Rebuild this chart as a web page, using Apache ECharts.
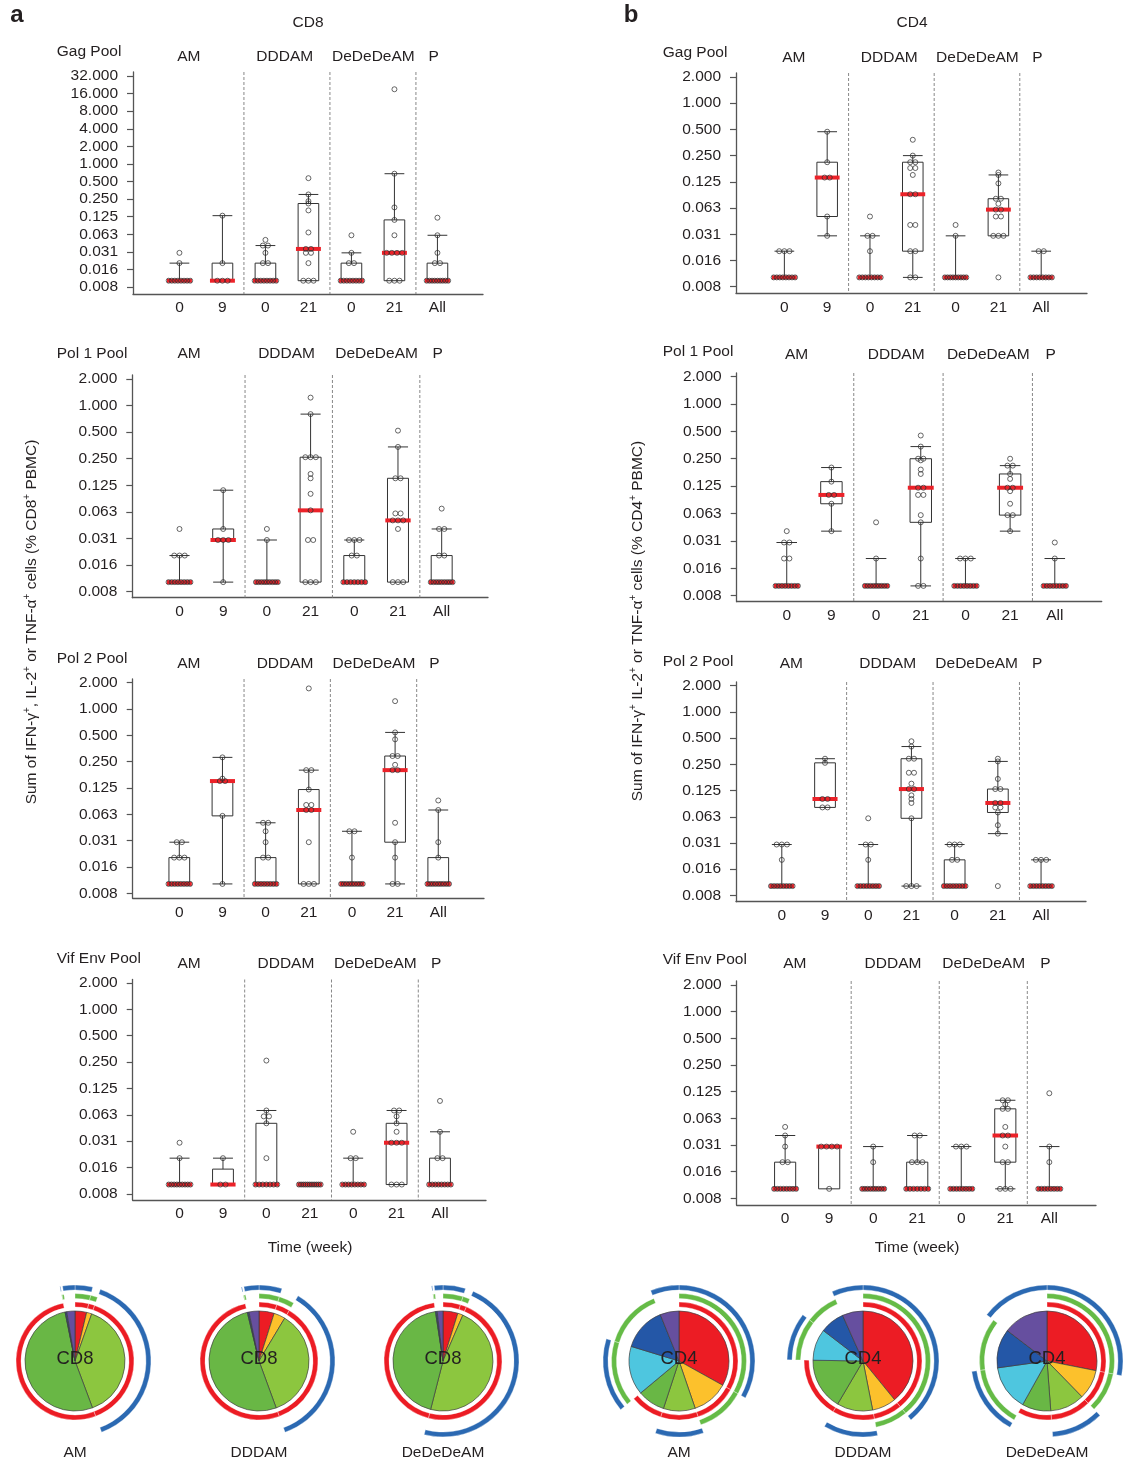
<!DOCTYPE html>
<html><head><meta charset="utf-8">
<script src="https://cdn.jsdelivr.net/npm/echarts@6/dist/echarts.min.js"></script>
<style>html,body{margin:0;padding:0;background:#fff}#c{width:1124px;height:1462px}</style>
</head><body><div id="c"></div>
<script>
// ---------- categories & tick labels ----------
const xLabels = ['0', '9', '0', '21', '0', '21', 'All'];
const groupNames = ['AM', 'DDDAM', 'DeDeDeAM', 'P'];
const yTickLabels = ['0.008','0.016','0.031','0.063','0.125','0.250','0.500','1.000','2.000','4.000','8.000','16.000','32.000'];
const pieNames = ['AM', 'DDDAM', 'DeDeDeAM'];
const sliceNames = ['IFN-γ+IL-2+TNF-α+', 'IFN-γ+IL-2+', 'IFN-γ+TNF-α+', 'IFN-γ+', 'IL-2+TNF-α+', 'IL-2+', 'TNF-α+'];

// ---------- box stats: [lower whisker, Q1, median, Q3, upper whisker] (% PBMC) ----------
const cd8GagBox  = [[0.01,0.01,0.01,0.01,0.02],[0.01,0.01,0.01,0.02,0.13],[0.01,0.01,0.01,0.02,0.04],[0.01,0.01,0.035,0.21,0.30],[0.01,0.01,0.01,0.02,0.03],[0.01,0.01,0.03,0.11,0.68],[0.01,0.01,0.01,0.02,0.06]];
const cd8Pol1Box = [[0.01,0.01,0.01,0.01,0.02],[0.01,0.03,0.03,0.04,0.11],[0.01,0.01,0.01,0.01,0.03],[0.01,0.01,0.065,0.26,0.8],[0.01,0.01,0.01,0.02,0.03],[0.01,0.01,0.05,0.15,0.34],[0.01,0.01,0.01,0.02,0.04]];
const cd8Pol2Box = [[0.01,0.01,0.01,0.02,0.03],[0.01,0.06,0.15,0.15,0.28],[0.01,0.01,0.01,0.02,0.05],[0.01,0.01,0.07,0.12,0.2],[0.01,0.01,0.01,0.01,0.04],[0.01,0.03,0.2,0.29,0.54],[0.01,0.01,0.01,0.02,0.07]];
const cd8VifBox  = [[0.01,0.01,0.01,0.01,0.02],[0.01,0.01,0.01,0.015,0.02],[0.01,0.01,0.01,0.05,0.07],[0.01,0.01,0.01,0.01,0.01],[0.01,0.01,0.01,0.01,0.02],[0.01,0.01,0.03,0.05,0.07],[0.01,0.01,0.01,0.02,0.04]];
const cd4GagBox  = [[0.01,0.01,0.01,0.01,0.02],[0.03,0.05,0.14,0.21,0.47],[0.01,0.01,0.01,0.01,0.03],[0.01,0.02,0.09,0.21,0.25],[0.01,0.01,0.01,0.01,0.03],[0.03,0.03,0.06,0.08,0.15],[0.01,0.01,0.01,0.01,0.02]];
const cd4Pol1Box = [[0.01,0.01,0.01,0.01,0.03],[0.04,0.08,0.1,0.14,0.2],[0.01,0.01,0.01,0.01,0.02],[0.01,0.05,0.12,0.25,0.34],[0.01,0.01,0.01,0.01,0.02],[0.04,0.06,0.12,0.17,0.21],[0.01,0.01,0.01,0.01,0.02]];
const cd4Pol2Box = [[0.01,0.01,0.01,0.01,0.03],[0.08,0.08,0.1,0.26,0.29],[0.01,0.01,0.01,0.01,0.03],[0.01,0.06,0.13,0.29,0.4],[0.01,0.01,0.01,0.02,0.03],[0.04,0.07,0.09,0.13,0.27],[0.01,0.01,0.01,0.01,0.02]];
const cd4VifBox  = [[0.01,0.01,0.01,0.02,0.04],[0.01,0.01,0.03,0.03,0.03],[0.01,0.01,0.01,0.01,0.03],[0.01,0.01,0.01,0.02,0.04],[0.01,0.01,0.01,0.01,0.03],[0.01,0.02,0.04,0.08,0.1],[0.01,0.01,0.01,0.01,0.03]];

// ---------- individual animals (% PBMC) ----------
const cd8GagPts = [
 [0.03,0.02,0.01,0.01,0.01,0.01,0.01,0.01,0.01,0.01],
 [0.13,0.02,0.01,0.01,0.01],
 [0.05,0.04,0.04,0.03,0.02,0.02,0.01,0.01,0.01,0.01,0.01,0.01,0.01,0.01],
 [0.57,0.30,0.23,0.21,0.16,0.067,0.035,0.035,0.03,0.03,0.02,0.01,0.01,0.01],
 [0.06,0.03,0.02,0.02,0.01,0.01,0.01,0.01,0.01,0.01,0.01,0.01],
 [19,0.68,0.18,0.11,0.06,0.03,0.03,0.03,0.03,0.01,0.01,0.01],
 [0.12,0.06,0.03,0.02,0.02,0.01,0.01,0.01,0.01,0.01,0.01,0.01,0.01,0.01]];
const cd8Pol1Pts = [
 [0.04,0.02,0.02,0.02,0.01,0.01,0.01,0.01,0.01,0.01,0.01,0.01],
 [0.11,0.04,0.03,0.03,0.03,0.01],
 [0.04,0.03,0.01,0.01,0.01,0.01,0.01,0.01,0.01,0.01,0.01],
 [1.23,0.8,0.26,0.26,0.26,0.168,0.15,0.1,0.065,0.03,0.03,0.01,0.01,0.01],
 [0.03,0.03,0.03,0.02,0.02,0.01,0.01,0.01,0.01,0.01,0.01,0.01],
 [0.52,0.34,0.15,0.15,0.06,0.06,0.05,0.05,0.05,0.04,0.01,0.01,0.01],
 [0.068,0.04,0.04,0.02,0.02,0.01,0.01,0.01,0.01,0.01,0.01,0.01,0.01,0.01]];
const cd8Pol2Pts = [
 [0.03,0.03,0.02,0.02,0.02,0.01,0.01,0.01,0.01,0.01,0.01,0.01,0.01],
 [0.28,0.16,0.15,0.15,0.06,0.01],
 [0.05,0.05,0.04,0.03,0.02,0.02,0.01,0.01,0.01,0.01,0.01,0.01,0.01,0.01],
 [1.72,0.2,0.2,0.12,0.08,0.08,0.07,0.07,0.03,0.01,0.01,0.01],
 [0.04,0.04,0.02,0.01,0.01,0.01,0.01,0.01,0.01,0.01,0.01,0.01],
 [1.23,0.54,0.45,0.29,0.29,0.23,0.2,0.2,0.05,0.03,0.02,0.01,0.01],
 [0.09,0.07,0.03,0.02,0.01,0.01,0.01,0.01,0.01,0.01,0.01,0.01,0.01]];
const cd8VifPts = [
 [0.03,0.02,0.01,0.01,0.01,0.01,0.01,0.01,0.01,0.01,0.01],
 [0.02,0.01,0.01],
 [0.26,0.07,0.06,0.06,0.05,0.02,0.01,0.01,0.01,0.01,0.01,0.01,0.01],
 [0.01,0.01,0.01,0.01,0.01,0.01,0.01,0.01,0.01,0.01,0.01],
 [0.04,0.02,0.02,0.01,0.01,0.01,0.01,0.01,0.01,0.01,0.01],
 [0.07,0.07,0.06,0.05,0.04,0.03,0.03,0.03,0.01,0.01,0.01],
 [0.09,0.04,0.02,0.02,0.01,0.01,0.01,0.01,0.01,0.01,0.01,0.01]];
const cd4GagPts = [
 [0.02,0.02,0.02,0.01,0.01,0.01,0.01,0.01,0.01,0.01,0.01],
 [0.47,0.21,0.14,0.14,0.05,0.03],
 [0.05,0.03,0.03,0.02,0.01,0.01,0.01,0.01,0.01,0.01,0.01,0.01],
 [0.38,0.25,0.21,0.21,0.18,0.18,0.15,0.09,0.09,0.04,0.04,0.02,0.02,0.01,0.01],
 [0.04,0.03,0.01,0.01,0.01,0.01,0.01,0.01,0.01,0.01,0.01],
 [0.16,0.15,0.12,0.08,0.08,0.07,0.06,0.06,0.05,0.05,0.03,0.03,0.03,0.01],
 [0.02,0.02,0.01,0.01,0.01,0.01,0.01,0.01,0.01,0.01]];
const cd4Pol1Pts = [
 [0.04,0.03,0.03,0.02,0.02,0.01,0.01,0.01,0.01,0.01,0.01,0.01,0.01],
 [0.2,0.14,0.1,0.1,0.08,0.04],
 [0.05,0.02,0.01,0.01,0.01,0.01,0.01,0.01,0.01,0.01,0.01],
 [0.45,0.34,0.25,0.25,0.24,0.19,0.17,0.12,0.12,0.1,0.1,0.06,0.05,0.02,0.01,0.01],
 [0.02,0.02,0.02,0.01,0.01,0.01,0.01,0.01,0.01,0.01,0.01],
 [0.25,0.21,0.21,0.17,0.15,0.12,0.12,0.11,0.08,0.06,0.06,0.04],
 [0.03,0.02,0.01,0.01,0.01,0.01,0.01,0.01,0.01,0.01]];
const cd4Pol2Pts = [
 [0.03,0.03,0.03,0.02,0.01,0.01,0.01,0.01,0.01,0.01,0.01,0.01],
 [0.29,0.26,0.1,0.1,0.08,0.08],
 [0.06,0.03,0.03,0.02,0.01,0.01,0.01,0.01,0.01,0.01,0.01,0.01],
 [0.46,0.4,0.29,0.29,0.2,0.2,0.15,0.13,0.13,0.11,0.1,0.09,0.06,0.01,0.01,0.01],
 [0.03,0.03,0.03,0.02,0.02,0.01,0.01,0.01,0.01,0.01,0.01,0.01,0.01],
 [0.29,0.27,0.17,0.13,0.13,0.09,0.09,0.08,0.08,0.07,0.05,0.04,0.01],
 [0.02,0.02,0.02,0.01,0.01,0.01,0.01,0.01,0.01,0.01,0.01]];
const cd4VifPts = [
 [0.05,0.04,0.03,0.02,0.02,0.01,0.01,0.01,0.01,0.01,0.01,0.01,0.01],
 [0.03,0.03,0.03,0.03,0.01],
 [0.03,0.02,0.01,0.01,0.01,0.01,0.01,0.01,0.01,0.01,0.01],
 [0.04,0.04,0.02,0.02,0.02,0.01,0.01,0.01,0.01,0.01,0.01,0.01],
 [0.03,0.03,0.03,0.01,0.01,0.01,0.01,0.01,0.01,0.01,0.01],
 [0.1,0.1,0.09,0.08,0.08,0.05,0.04,0.04,0.03,0.02,0.02,0.01,0.01,0.01],
 [0.12,0.03,0.02,0.01,0.01,0.01,0.01,0.01,0.01,0.01,0.01]];

// ---------- pie slices (% of response), order = sliceNames ----------
const cd8AmSlices    = [3.75, 1.67, 38.9, 52.5, 0.14, 0.42, 2.64];
const cd8DddamSlices = [4.9, 3.7, 35.8, 51.8, 0.17, 0.39, 3.2];
const cd8DedeSlices  = [4.8, 1.7, 47.5, 43.6, 0.17, 0.39, 1.86];
const cd4AmSlices    = [33.1, 11.7, 10.3, 8.9, 15.8, 14.2, 6.1];
const cd4DddamSlices = [39.2, 7.8, 11.6, 16.8, 10.2, 7.9, 6.7];
const cd4DedeSlices  = [28.1, 9.6, 11.1, 9.3, 14.7, 12.6, 14.6];
// which cytokine each slice contains
const hasIFN = [1,1,1,1,0,0,0];
const hasIL2 = [1,1,0,0,1,1,0];
const hasTNF = [1,0,1,0,1,0,1];

// ---------- styles ----------
const FONT = "'Liberation Sans', Arial, Helvetica, sans-serif";
const TXT = '#231f20';
const sliceColors = ['#ec1c24', '#fcc12c', '#8cc63f', '#69b745', '#4ec6df', '#2457a7', '#664f9f'];
const ringColors = {ifn: '#ec1c24', il2: '#65bb46', tnf: '#2b69b2'};

const panels = [
 {col:0, name:'Gag Pool',     grid:{left:133,   top:72,    width:350,   height:222},   yMin:-7.40, yMax:5.23, yTop:5, xMin:-1.08, xMax:7.06, poolY:52,    groupY:57,    box:cd8GagBox,  pts:cd8GagPts},
 {col:0, name:'Pol 1 Pool',   grid:{left:132.3, top:375,   width:355.7, height:222.7}, yMin:-7.23, yMax:1.15, yTop:1, xMin:-1.08, xMax:7.06, poolY:354,   groupY:354,   box:cd8Pol1Box, pts:cd8Pol1Pts},
 {col:0, name:'Pol 2 Pool',   grid:{left:132.7, top:679,   width:351.3, height:219.3}, yMin:-7.19, yMax:1.14, yTop:1, xMin:-1.08, xMax:7.06, poolY:658.3, groupY:663.3, box:cd8Pol2Box, pts:cd8Pol2Pts},
 {col:0, name:'Vif Env Pool', grid:{left:132.7, top:979.5, width:353.3, height:220.5}, yMin:-7.23, yMax:1.13, yTop:1, xMin:-1.08, xMax:7.06, poolY:958.3, groupY:963.3, box:cd8VifBox,  pts:cd8VifPts},
 {col:1, name:'Gag Pool',     grid:{left:736,   top:73,    width:351,   height:220.3}, yMin:-7.25, yMax:1.15, yTop:1, xMin:-1.13, xMax:7.07, poolY:52.3,  groupY:57.3,  box:cd4GagBox,  pts:cd4GagPts},
 {col:1, name:'Pol 1 Pool',   grid:{left:736.7, top:373,   width:365,   height:228.7}, yMin:-7.22, yMax:1.13, yTop:1, xMin:-1.12, xMax:7.05, poolY:351.7, groupY:354.3, box:cd4Pol1Box, pts:cd4Pol1Pts},
 {col:1, name:'Pol 2 Pool',   grid:{left:736,   top:682,   width:350,   height:219.7}, yMin:-7.24, yMax:1.14, yTop:1, xMin:-1.06, xMax:7.04, poolY:661.7, groupY:663.3, box:cd4Pol2Box, pts:cd4Pol2Pts},
 {col:1, name:'Vif Env Pool', grid:{left:736.7, top:981,   width:359.3, height:224},   yMin:-7.25, yMax:1.15, yTop:1, xMin:-1.10, xMax:7.06, poolY:959.3, groupY:963.3, box:cd4VifBox,  pts:cd4VifPts}
];
const groupLabelPos = [0.22, 2.45, 4.51, 5.91];
const dividerPos = [1.5, 3.5, 5.5];

const pies = [
 {cx:75,  cy:1361, slices:cd8AmSlices,    label:'CD8', name:pieNames[0]},
 {cx:259, cy:1361, slices:cd8DddamSlices, label:'CD8', name:pieNames[1]},
 {cx:443, cy:1361, slices:cd8DedeSlices,  label:'CD8', name:pieNames[2]},
 {cx:679, cy:1361, slices:cd4AmSlices,    label:'CD4', name:pieNames[0]},
 {cx:863, cy:1361, slices:cd4DddamSlices, label:'CD4', name:pieNames[1]},
 {cx:1047,cy:1361, slices:cd4DedeSlices,  label:'CD4', name:pieNames[2]}
];

// ---------- helpers ----------
function spread(vals) {
  const counts = {}, seen = {};
  vals.forEach(v => counts[v] = (counts[v] || 0) + 1);
  return vals.map(v => {
    const k = counts[v];
    const j = seen[v] = (seen[v] === undefined ? 0 : seen[v] + 1);
    if (k === 1) return 0;
    const w = Math.min(0.06 * (k - 1), 0.25);
    return -w + 2 * w * j / (k - 1);
  });
}
const range = (a, b) => { const r = []; for (let i = a; i <= b; i++) r.push(i); return r; };

const grids = [], xAxes = [], yAxes = [], series = [], graphics = [];

panels.forEach((p, pi) => {
  grids.push(Object.assign({containLabel: false}, p.grid));
  xAxes.push({
    type: 'value', gridIndex: pi, min: p.xMin, max: p.xMax,
    axisLine: {show: true, onZero: false, lineStyle: {color: '#555', width: 1.3}},
    axisTick: {show: false}, splitLine: {show: false},
    axisLabel: {customValues: range(0, 6), formatter: v => xLabels[Math.round(v)], fontSize: 15.5, color: TXT, fontFamily: FONT, margin: 6}
  });
  yAxes.push({
    type: 'value', gridIndex: pi, min: p.yMin, max: p.yMax,
    axisLine: {show: true, onZero: false, lineStyle: {color: '#555', width: 1.3}},
    axisTick: {show: true, customValues: range(-7, p.yTop), length: 6, lineStyle: {color: '#555', width: 1.2}},
    splitLine: {show: false},
    axisLabel: {customValues: range(-7, p.yTop), formatter: v => yTickLabels[Math.round(v) + 7], fontSize: 15.5, color: TXT, fontFamily: FONT, margin: 15}
  });
  // dashed dividers between vaccine groups
  series.push({
    type: 'custom', xAxisIndex: pi, yAxisIndex: pi, silent: true, z: 1,
    data: dividerPos.map(x => [x, p.yMin]),
    renderItem: (params, api) => {
      const x = api.value(0);
      const a = api.coord([x, p.yMax]), b = api.coord([x, p.yMin]);
      return {type: 'line', shape: {x1: a[0], y1: a[1], x2: b[0], y2: b[1]}, style: {stroke: '#7a7a7a', lineWidth: 0.9, lineDash: [3, 2]}};
    }
  });
  // boxes, whiskers, medians
  series.push({
    type: 'custom', xAxisIndex: pi, yAxisIndex: pi, silent: true, z: 2,
    data: p.box.map((b, i) => [i].concat(b.map(v => Math.log2(v)))),
    renderItem: (params, api) => {
      const i = api.value(0), lo = api.value(1), q1 = api.value(2), med = api.value(3), q3 = api.value(4), hi = api.value(5);
      const unit = api.size([1, 0])[0];
      const bw = unit * 0.48, cw = unit * 0.46, mw = unit * 0.58;
      const yLo = api.coord([i, lo])[1], yQ1 = api.coord([i, q1])[1], yMed = api.coord([i, med])[1], yQ3 = api.coord([i, q3])[1], yHi = api.coord([i, hi])[1];
      const cx = api.coord([i, med])[0];
      const st = {stroke: '#333', lineWidth: 1, fill: null};
      const ch = [];
      if (hi > q3 + 1e-9) {
        ch.push({type: 'line', shape: {x1: cx, y1: yQ3, x2: cx, y2: yHi}, style: st});
        ch.push({type: 'line', shape: {x1: cx - cw / 2, y1: yHi, x2: cx + cw / 2, y2: yHi}, style: st});
      }
      if (lo < q1 - 1e-9) {
        ch.push({type: 'line', shape: {x1: cx, y1: yQ1, x2: cx, y2: yLo}, style: st});
        ch.push({type: 'line', shape: {x1: cx - cw / 2, y1: yLo, x2: cx + cw / 2, y2: yLo}, style: st});
      }
      if (q3 > q1 + 1e-9) {
        ch.push({type: 'rect', shape: {x: cx - bw / 2, y: yQ3, width: bw, height: yQ1 - yQ3}, style: {stroke: '#333', lineWidth: 1, fill: 'rgba(0,0,0,0)'}});
      }
      ch.push({type: 'line', shape: {x1: cx - mw / 2, y1: yMed, x2: cx + mw / 2, y2: yMed}, style: {stroke: '#ec2229', lineWidth: 4}});
      return {type: 'group', children: ch};
    }
  });
  // individual points
  const data = [];
  p.pts.forEach((vals, i) => {
    const off = spread(vals);
    vals.forEach((v, k) => data.push([i + off[k], Math.log2(v)]));
  });
  series.push({
    type: 'scatter', xAxisIndex: pi, yAxisIndex: pi, silent: true, z: 3,
    symbol: 'circle', symbolSize: 5,
    itemStyle: {color: 'rgba(255,255,255,0)', borderColor: '#2b2b2b', borderWidth: 0.9},
    data
  });
  // texts
  const poolX = p.col === 0 ? 56.7 : 662.7;
  graphics.push({type: 'text', x: poolX, y: p.poolY, style: {text: p.name, font: `15.5px ${FONT}`, fill: TXT, textAlign: 'left', textVerticalAlign: 'middle'}});
  groupNames.forEach((g, gi) => {
    const x = p.grid.left + (groupLabelPos[gi] - p.xMin) / (p.xMax - p.xMin) * p.grid.width;
    graphics.push({type: 'text', x, y: p.groupY, style: {text: g, font: `15.5px ${FONT}`, fill: TXT, textAlign: 'center', textVerticalAlign: 'middle'}});
  });
});

// pies with cytokine arcs
const ringDefs = [
  {key: 'ifn', member: hasIFN, r: [54, 59]},
  {key: 'il2', member: hasIL2, r: [62.5, 67.5]},
  {key: 'tnf', member: hasTNF, r: [71, 76]}
];
pies.forEach(pp => {
  series.push({
    type: 'pie', center: [pp.cx, pp.cy], radius: [0, 50], startAngle: 90, clockwise: true, silent: true,
    label: {show: false}, labelLine: {show: false}, animation: false, z: 2,
    itemStyle: {borderColor: '#3d3d3d', borderWidth: 0.7},
    data: pp.slices.map((v, k) => ({value: v, name: sliceNames[k], itemStyle: {color: sliceColors[k]}}))
  });
  ringDefs.forEach(rd => {
    series.push({
      type: 'pie', center: [pp.cx, pp.cy], radius: rd.r, startAngle: 90, clockwise: true, silent: true,
      label: {show: false}, labelLine: {show: false}, animation: false, z: 2,
      data: pp.slices.map((v, k) => ({value: v, name: sliceNames[k],
        itemStyle: {color: rd.member[k] ? ringColors[rd.key] : 'rgba(0,0,0,0)', borderColor: 'rgba(255,255,255,0.7)', borderWidth: rd.member[k] ? 0.5 : 0}}))
    });
  });
  graphics.push({type: 'text', x: pp.cx, y: pp.cy - 2, z: 10, style: {text: pp.label, font: `18.5px ${FONT}`, fill: TXT, textAlign: 'center', textVerticalAlign: 'middle'}});
  graphics.push({type: 'text', x: pp.cx, y: 1453, style: {text: pp.name, font: `15.5px ${FONT}`, fill: TXT, textAlign: 'center', textVerticalAlign: 'middle'}});
});

// headers & axis titles
graphics.push({type: 'text', x: 17, y: 15, style: {text: 'a', font: `bold 24px ${FONT}`, fill: TXT, textAlign: 'center', textVerticalAlign: 'middle'}});
graphics.push({type: 'text', x: 631, y: 15, style: {text: 'b', font: `bold 24px ${FONT}`, fill: TXT, textAlign: 'center', textVerticalAlign: 'middle'}});
graphics.push({type: 'text', x: 308, y: 23, style: {text: 'CD8', font: `15.5px ${FONT}`, fill: TXT, textAlign: 'center', textVerticalAlign: 'middle'}});
graphics.push({type: 'text', x: 912, y: 23, style: {text: 'CD4', font: `15.5px ${FONT}`, fill: TXT, textAlign: 'center', textVerticalAlign: 'middle'}});
graphics.push({type: 'text', x: 310, y: 1248, style: {text: 'Time (week)', font: `15.5px ${FONT}`, fill: TXT, textAlign: 'center', textVerticalAlign: 'middle'}});
graphics.push({type: 'text', x: 917, y: 1248, style: {text: 'Time (week)', font: `15.5px ${FONT}`, fill: TXT, textAlign: 'center', textVerticalAlign: 'middle'}});
const supRich = {
  n: {fontSize: 15.5, fontFamily: FONT, fill: TXT, color: TXT, lineHeight: 20},
  s: {fontSize: 10, fontFamily: FONT, fill: TXT, color: TXT, lineHeight: 20, verticalAlign: 'top', padding: [0, 0, 8, 0]}
};
function yTitle(x, y, txt) {
  graphics.push({type: 'text', x, y, rotation: Math.PI / 2,
    style: {text: txt, rich: supRich, font: `15.5px ${FONT}`, fill: TXT, textAlign: 'center', textVerticalAlign: 'middle'}});
}
yTitle(32, 622, '{n|Sum of IFN-γ}{s|+}{n|, IL-2}{s|+}{n| or TNF-α}{s|+}{n| cells (% CD8}{s|+}{n| PBMC)}');
yTitle(638, 621, '{n|Sum of IFN-γ}{s|+}{n| IL-2}{s|+}{n| or TNF-α}{s|+}{n| cells (% CD4}{s|+}{n| PBMC)}');

const chart = echarts.init(document.getElementById('c'), null, {renderer: 'canvas'});
chart.setOption({
  animation: false,
  backgroundColor: '#fff',
  textStyle: {fontFamily: FONT},
  grid: grids, xAxis: xAxes, yAxis: yAxes, series,
  graphic: {elements: graphics}
});
</script></body></html>
